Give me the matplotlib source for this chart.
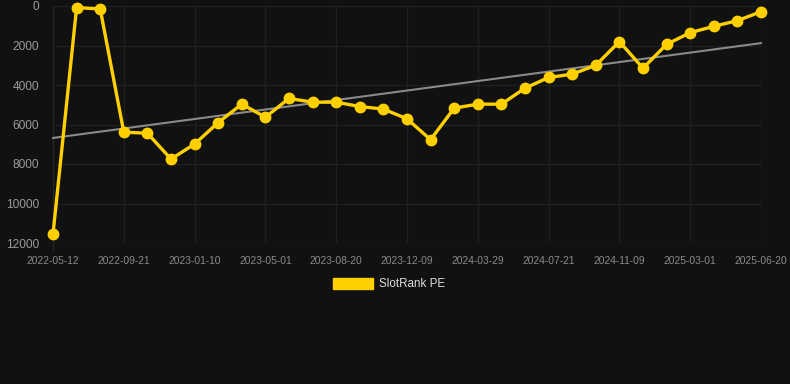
import matplotlib
matplotlib.use("Agg")
import matplotlib.pyplot as plt
from matplotlib.patches import Patch
import numpy as np

plt.rcParams['font.family'] = ['Liberation Sans', 'DejaVu Sans']

tick_labels = ["2022-05-12", "2022-09-21", "2023-01-10", "2023-05-01", "2023-08-20",
               "2023-12-09", "2024-03-29", "2024-07-21", "2024-11-09", "2025-03-01",
               "2025-06-20"]
rank_values = [11550, 80, 150, 6390, 6440, 7750, 6990, 5900, 4970, 5630, 4680,
               4870, 4870, 5090, 5220, 5710, 6770, 5170, 4970, 4970, 4160,
               3620, 3450, 3000, 1800, 3150, 1940, 1350, 1030, 740, 290]
y_ticks = [0, 2000, 4000, 6000, 8000, 10000, 12000]
series_name = "SlotRank PE"

BG = "#111111"
YELLOW = "#FFD000"
GRID = "#1f1f1f"

fig = plt.figure(figsize=(7.9, 3.84), dpi=100, facecolor=BG)
ax = fig.add_axes([53/790, 1 - 243/384, (761-53)/790, (243-6)/384], facecolor=BG)

x = np.arange(len(rank_values))
y = np.array(rank_values, dtype=float)

coef = np.polyfit(x, y, 1)
trend = np.polyval(coef, x)
ax.plot(x[[0, -1]], trend[[0, -1]], color="#8a8a8a", lw=1.5, zorder=3, clip_on=False)

ax.plot(x, y, color=YELLOW, lw=2.4, marker="o", markersize=7.5,
        markerfacecolor=YELLOW, markeredgecolor=YELLOW, zorder=4, clip_on=False)

ax.set_xlim(0, len(rank_values) - 1)
ax.set_ylim(12000, 0)
ax.set_yticks(y_ticks)
ax.set_yticklabels([str(v) for v in y_ticks])
tick_pos = x[::3]
ax.set_xticks(tick_pos)
ax.set_xticklabels(tick_labels)

ax.grid(True, color=GRID, lw=1)
for s in ax.spines.values():
    s.set_visible(False)
ax.spines["left"].set_visible(True)
ax.spines["left"].set_color("#262626")
ax.spines["left"].set_bounds(12400, 0)
ax.tick_params(axis="y", length=0, pad=10, labelsize=8.6, labelcolor="#9a9a9a")
ax.tick_params(axis="x", length=0, pad=9, labelsize=7.4, labelcolor="#8a8a8a")

handle = Patch(facecolor=YELLOW, edgecolor=YELLOW)
leg = fig.legend([handle], [series_name], loc="center",
                 bbox_to_anchor=(389/790, 1 - 284/384), frameon=False,
                 handlelength=3.4, handleheight=1.1, handletextpad=0.55,
                 fontsize=8.4, labelcolor="#dddddd")

fig.savefig("out.png", dpi=100, facecolor=BG)
